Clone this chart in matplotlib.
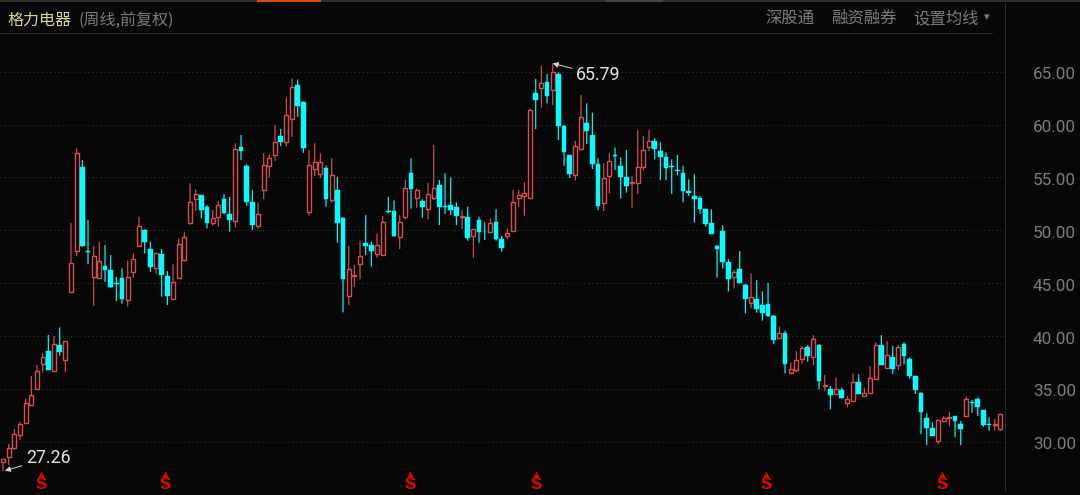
import matplotlib
matplotlib.use("Agg")
import matplotlib.pyplot as plt
from matplotlib.lines import Line2D
from matplotlib.patches import Rectangle

plt.rcParams['font.family'] = ['Noto Sans CJK SC', 'DejaVu Sans']

# weekly candles
opens = [28.11, 28.52, 29.37, 30.67, 31.74, 33.50, 34.96, 37.35, 38.58, 36.72,
         39.18, 37.76, 44.19, 48.04, 56.02, 48.07, 45.61, 45.46, 46.62, 46.28,
         44.99, 45.46, 43.44, 46.06, 48.55, 50.03, 48.23, 46.47, 47.73, 45.71,
         43.53, 45.52, 47.22, 50.72, 52.93, 53.34, 52.20, 50.66, 51.23, 52.96,
         51.54, 50.91, 57.88, 56.11, 52.65, 50.44, 53.78, 56.11, 57.15, 58.92,
         58.35, 60.56, 63.74, 62.10, 51.76, 55.83, 55.29, 55.92, 52.83, 53.81,
         51.19, 43.78, 45.64, 46.78, 48.83, 48.58, 47.76, 47.63, 51.80, 51.79,
         49.40, 51.29, 55.42, 53.09, 52.81, 51.99, 53.09, 54.26, 52.23, 52.40,
         52.21, 51.27, 51.29, 49.46, 50.94, 49.98, 49.84, 50.76, 49.15, 49.46,
         49.97, 53.09, 53.28, 53.09, 62.99, 63.50, 64.00, 63.24, 64.79, 59.87,
         57.13, 55.23, 57.72, 60.19, 58.99, 56.27, 52.56, 55.14, 57.05, 56.09,
         55.08, 54.46, 54.45, 56.03, 57.92, 58.48, 57.54, 56.94, 56.05, 55.67,
         55.43, 53.75, 53.25, 53.06, 51.99, 50.70, 48.52, 49.94, 47.04, 45.62,
         46.31, 44.86, 43.10, 43.47, 42.91, 43.00, 41.93, 39.78, 40.29, 36.47,
         36.79, 37.85, 38.99, 38.04, 39.11, 35.31, 35.01, 34.51, 34.86, 33.69,
         33.88, 35.61, 34.32, 34.64, 35.96, 39.14, 37.00, 37.98, 37.25, 39.24,
         37.82, 36.21, 34.60, 32.24, 31.29, 30.03, 31.95, 32.29, 32.40, 31.67,
         32.43, 33.78, 34.00, 33.00, 31.66, 31.56, 31.20]
closes = [28.33, 29.44, 30.70, 31.64, 33.63, 34.42, 36.72, 38.05, 36.78, 39.24,
          38.49, 39.50, 46.88, 57.28, 48.52, 47.95, 47.54, 47.13, 46.21, 44.60,
          44.95, 43.50, 45.61, 47.32, 50.41, 48.86, 46.56, 47.82, 45.80, 43.79,
          45.08, 48.74, 49.34, 52.65, 53.40, 51.92, 50.72, 51.13, 52.36, 51.60,
          50.97, 57.66, 57.50, 52.65, 50.53, 51.51, 56.18, 56.81, 58.32, 58.35,
          60.94, 63.52, 61.73, 57.75, 56.18, 56.49, 56.43, 53.00, 55.23, 50.72,
          45.39, 46.37, 45.77, 47.53, 48.54, 48.01, 48.58, 50.75, 51.72, 49.46,
          50.76, 53.97, 53.94, 53.81, 52.24, 53.47, 53.97, 52.24, 52.19, 51.95,
          51.32, 51.31, 49.27, 50.09, 49.87, 49.90, 50.66, 49.15, 48.33, 49.75,
          52.71, 53.34, 53.50, 61.35, 62.33, 63.91, 62.74, 65.01, 59.87, 57.41,
          55.30, 57.95, 60.69, 59.43, 56.31, 52.33, 54.92, 56.53, 57.01, 55.05,
          54.23, 54.50, 56.03, 57.60, 58.48, 57.66, 56.91, 55.90, 56.01, 55.63,
          53.75, 53.50, 53.00, 52.02, 50.63, 49.69, 48.27, 46.97, 45.40, 46.03,
          45.05, 43.54, 43.73, 42.59, 42.15, 41.93, 39.63, 40.26, 37.32, 36.88,
          37.73, 38.83, 38.10, 39.68, 35.71, 35.35, 34.45, 34.95, 34.16, 34.00,
          35.61, 34.51, 34.57, 36.02, 39.18, 37.25, 38.17, 36.91, 38.92, 38.10,
          36.21, 34.89, 32.84, 31.32, 30.54, 32.05, 32.24, 32.37, 31.99, 31.23,
          34.00, 33.63, 33.28, 31.58, 31.62, 31.60, 32.65]
highs = [28.33, 29.78, 31.20, 31.90, 34.10, 36.22, 37.26, 38.42, 40.10, 40.00,
         40.82, 39.50, 50.69, 57.76, 56.65, 50.98, 48.52, 48.93, 48.61, 47.66,
         45.61, 46.40, 47.13, 47.82, 51.29, 50.09, 48.93, 47.88, 48.23, 46.15,
         46.78, 49.24, 49.84, 54.44, 53.88, 53.34, 52.39, 51.92, 52.77, 53.43,
         53.18, 58.23, 59.01, 56.24, 53.81, 52.65, 57.31, 57.22, 59.96, 59.58,
         62.58, 64.38, 64.28, 62.20, 57.60, 58.23, 57.28, 56.14, 56.81, 55.07,
         51.25, 48.51, 46.72, 48.99, 51.45, 48.92, 49.68, 51.38, 53.15, 52.83,
         51.45, 54.82, 56.81, 53.97, 52.93, 54.51, 58.07, 54.76, 55.39, 55.01,
         52.65, 51.92, 52.24, 50.09, 51.29, 50.76, 51.13, 51.99, 49.49, 50.19,
         53.81, 53.81, 54.57, 61.54, 64.32, 65.55, 64.79, 65.79, 64.95, 59.96,
         57.13, 58.45, 62.80, 62.01, 61.13, 56.81, 56.34, 57.29, 57.82, 56.91,
         57.60, 55.17, 59.49, 58.93, 59.49, 58.71, 58.33, 57.38, 56.72, 57.13,
         56.12, 54.83, 55.30, 53.25, 51.99, 51.99, 48.61, 50.47, 47.26, 46.25,
         48.05, 44.92, 45.93, 45.30, 44.23, 45.02, 41.99, 40.89, 40.51, 37.51,
         38.59, 39.05, 39.14, 40.09, 39.24, 36.31, 35.27, 36.05, 35.11, 34.32,
         36.46, 36.37, 35.11, 37.16, 39.40, 40.09, 39.52, 39.08, 39.14, 39.40,
         37.98, 36.21, 34.67, 32.68, 31.83, 32.11, 32.43, 32.84, 32.40, 31.95,
         34.26, 33.94, 34.19, 33.00, 32.30, 32.14, 32.65]
lows = [27.26, 27.80, 29.28, 30.16, 31.74, 33.50, 34.96, 36.56, 36.78, 36.72,
        38.14, 36.56, 44.19, 47.57, 48.45, 46.81, 42.84, 45.39, 45.11, 44.54,
        43.31, 43.06, 42.78, 45.52, 48.55, 47.82, 46.06, 45.87, 43.72, 42.93,
        43.47, 45.39, 47.07, 50.53, 51.83, 51.13, 50.18, 50.44, 50.34, 51.54,
        49.87, 50.28, 56.65, 52.33, 50.03, 50.18, 52.96, 54.98, 56.55, 57.97,
        57.91, 58.86, 60.75, 57.34, 51.38, 55.14, 54.95, 52.23, 52.61, 48.83,
        42.24, 42.93, 44.67, 45.39, 47.66, 46.56, 47.41, 47.63, 51.60, 49.40,
        48.23, 51.04, 52.05, 52.14, 51.20, 51.04, 52.87, 50.50, 51.54, 51.45,
        50.50, 50.09, 49.02, 47.41, 48.83, 49.08, 49.78, 49.02, 47.98, 49.18,
        49.97, 52.21, 51.39, 53.09, 59.59, 61.62, 62.01, 61.86, 58.55, 56.12,
        54.95, 54.70, 57.72, 58.17, 55.80, 51.92, 51.83, 53.50, 55.71, 53.00,
        53.57, 52.15, 53.44, 55.65, 57.48, 56.72, 54.76, 54.76, 53.44, 55.20,
        52.65, 53.25, 50.73, 51.55, 50.35, 49.69, 45.52, 46.37, 44.23, 44.51,
        44.99, 42.15, 42.62, 42.21, 41.46, 41.83, 39.22, 39.78, 36.47, 36.47,
        36.57, 37.41, 37.57, 37.25, 34.95, 34.82, 33.09, 34.51, 34.10, 33.25,
        33.88, 34.51, 34.26, 34.64, 35.96, 37.25, 37.00, 36.40, 36.78, 37.32,
        35.96, 34.51, 30.72, 29.68, 30.54, 29.78, 31.86, 31.48, 30.41, 29.68,
        32.43, 32.74, 32.43, 31.42, 31.04, 31.04, 31.04]

price_ticks = [30, 35, 40, 45, 50, 55, 60, 65]
dividend_weeks = [6.7, 28.6, 71.8, 94.1, 134.6, 165.7]
low_week = 0
high_week = 97
title_name = '格力电器'
title_note = '(周线,前复权)'
menu_items = ['深股通', '融资融券', '设置均线']

BG = '#070707'
RED = '#d94d4f'
CYAN = '#00ffff'
GREY = '#7c7c7c'

fig = plt.figure(figsize=(10.8, 4.95), dpi=100, facecolor=BG)
# plot area runs from pixel x=0 to 1008 and y=33 to 495
ax = fig.add_axes([0, 0, 1008 / 1080, 1 - 33 / 495], facecolor=BG)
ax.set_xlim(-0.53, 177.34)
ax.set_ylim(24.96, 68.67)
for s in ax.spines.values():
    s.set_visible(False)
ax.set_xticks([])
ax.set_yticks([])

# grid
for p in price_ticks:
    ax.axhline(p, color='#363636', lw=0.75, ls=(0, (1, 3)), zorder=1)
    fig.text(1033 / 1080, (ax.transData.transform((0, p))[1] - 3) / 495, '%.2f' % p,
             color=GREY, fontsize=12.3, family='Roboto', ha='left', va='center')

# candles
for i in range(len(opens)):
    up = closes[i] >= opens[i]
    col = RED if up else CYAN
    ax.vlines(i, lows[i], highs[i], color=col, lw=0.85, zorder=2, snap=False)
    bottom = min(opens[i], closes[i])
    height = max(abs(closes[i] - opens[i]), 0.08)
    if up:
        ax.bar(i, height, bottom=bottom, width=0.72, facecolor=BG, edgecolor=col, linewidth=1.0, zorder=3)
    else:
        ax.bar(i, height, bottom=bottom, width=0.8, facecolor=col, edgecolor=col, linewidth=0.3, zorder=3)

# high / low marks
ax.annotate('%.2f' % highs[high_week], xy=(high_week, highs[high_week]), xytext=(576, 420),
            textcoords='figure pixels', color='#e4e4e4', fontsize=12.8, family='Roboto', va='center',
            arrowprops=dict(arrowstyle='-|>', color='#d8d8d8', lw=0.7, shrinkA=1, shrinkB=0, mutation_scale=8))
ax.annotate('%.2f' % lows[low_week], xy=(low_week + 0.35, lows[low_week]), xytext=(26, 37),
            textcoords='figure pixels', color='#e4e4e4', fontsize=12.8, family='Roboto', va='center',
            arrowprops=dict(arrowstyle='-|>', color='#d8d8d8', lw=0.7, shrinkA=1, shrinkB=0, mutation_scale=8))

# dividend marks along the bottom
for w in dividend_weeks:
    ax.text(w, 25.95, 'S', color='#f00000', fontsize=12, fontweight='bold', family='Liberation Sans',
            ha='center', va='center', zorder=4)
    ax.plot([w], [26.95], marker='^', ms=5, color='#f00000', mec='none', zorder=4)

# header text
fig.text(7 / 1080, 1 - 20 / 495, title_name, color='#d9d88c', fontsize=11.5, va='center')
fig.text(79 / 1080, 1 - 20 / 495, title_note, color=GREY, fontsize=11.5, va='center')
fig.text(765 / 1080, 1 - 18.5 / 495, menu_items[0], color=GREY, fontsize=11.8, va='center')
fig.text(831 / 1080, 1 - 18.5 / 495, menu_items[1], color=GREY, fontsize=11.8, va='center')
fig.text(913 / 1080, 1 - 18.5 / 495, menu_items[2], color=GREY, fontsize=11.8, va='center')
fig.text(987 / 1080, 1 - 17.5 / 495, '▾', color=GREY, fontsize=8, va='center', ha='center', family='DejaVu Sans')

# frame lines of the trading window
fig.add_artist(Rectangle((0, 1 - 2 / 495), 1, 2 / 495, transform=fig.transFigure, facecolor='#2e2e2e', edgecolor='none'))
fig.add_artist(Rectangle((257 / 1080, 1 - 1.5 / 495), 64 / 1080, 1.5 / 495, transform=fig.transFigure,
                         facecolor='#d94f0c', edgecolor='none'))
fig.add_artist(Rectangle((605 / 1080, 1 - 1.5 / 495), 58 / 1080, 1.5 / 495, transform=fig.transFigure,
                         facecolor='#444444', edgecolor='none'))
fig.add_artist(Line2D([0, 992 / 1080], [1 - 32.5 / 495, 1 - 32.5 / 495], color='#2a2a2a', lw=0.75))
fig.add_artist(Line2D([1004.5 / 1080, 1004.5 / 1080], [1 - 3 / 495, 1 - 491 / 495], color='#2c2c2c', lw=0.75))

plt.savefig('out.png', dpi=100, facecolor=BG)
